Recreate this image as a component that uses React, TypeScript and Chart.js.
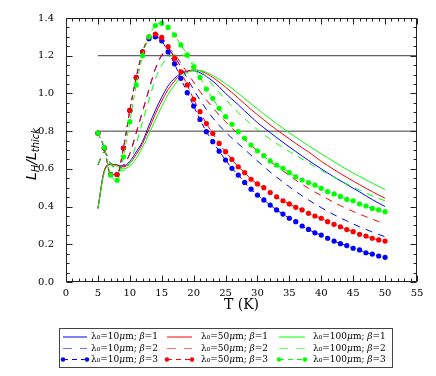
import React, { useEffect, useRef } from "react";
import { Chart, registerables } from "chart.js";

Chart.register(...registerables);

// ---------- data ----------
const temperatures = [
  5, 6, 7, 8, 9, 10, 11, 12, 13, 14, 15, 16, 17, 18, 19, 20, 21, 22, 23, 24, 25, 26, 27,
  28, 29, 30, 31, 32, 33, 34, 35, 36, 37, 38, 39, 40, 41, 42, 43, 44, 45, 46, 47, 48, 49, 50,
];

const blueBeta1 = [
  0.39, 0.59, 0.625, 0.62, 0.615, 0.64, 0.69, 0.745, 0.83, 0.91,
  0.98, 1.04, 1.08, 1.105, 1.118, 1.12, 1.11, 1.09, 1.065, 1.035,
  1.0, 0.97, 0.94, 0.907, 0.876, 0.845, 0.818, 0.792, 0.766, 0.741,
  0.716, 0.692, 0.668, 0.645, 0.622, 0.6, 0.578, 0.557, 0.537, 0.517,
  0.497, 0.478, 0.457, 0.437, 0.418, 0.4,
];
const redBeta1 = [
  0.39, 0.59, 0.625, 0.62, 0.61, 0.63, 0.675, 0.735, 0.81, 0.89,
  0.96, 1.02, 1.065, 1.1, 1.118, 1.125, 1.12, 1.105, 1.085, 1.06,
  1.033, 1.005, 0.975, 0.945, 0.915, 0.887, 0.86, 0.833, 0.808, 0.783,
  0.759, 0.735, 0.712, 0.69, 0.665, 0.64, 0.618, 0.596, 0.575, 0.555,
  0.535, 0.516, 0.497, 0.479, 0.461, 0.444,
];
const greenBeta1 = [
  0.39, 0.58, 0.62, 0.615, 0.6, 0.615, 0.655, 0.715, 0.785, 0.86,
  0.93, 0.995, 1.045, 1.085, 1.11, 1.122, 1.122, 1.112, 1.095, 1.075,
  1.052, 1.027, 1.0, 0.972, 0.945, 0.918, 0.891, 0.865, 0.84, 0.815,
  0.791, 0.768, 0.745, 0.723, 0.701, 0.68, 0.659, 0.638, 0.617, 0.597,
  0.578, 0.56, 0.542, 0.524, 0.507, 0.49,
];
const blueBeta2 = [
  0.62, 0.69, 0.63, 0.6, 0.62, 0.68, 0.79, 0.905, 1.02, 1.13,
  1.2, 1.23, 1.195, 1.14, 1.08, 1.02, 0.965, 0.915, 0.87, 0.83,
  0.795, 0.763, 0.733, 0.703, 0.672, 0.642, 0.612, 0.583, 0.556, 0.53,
  0.505, 0.48, 0.457, 0.435, 0.414, 0.394, 0.375, 0.357, 0.34, 0.324,
  0.308, 0.293, 0.279, 0.265, 0.252, 0.24,
];
const redBeta2 = [
  0.62, 0.69, 0.63, 0.6, 0.62, 0.68, 0.79, 0.905, 1.02, 1.13,
  1.205, 1.235, 1.21, 1.16, 1.11, 1.06, 1.01, 0.965, 0.925, 0.885,
  0.85, 0.815, 0.785, 0.755, 0.726, 0.695, 0.667, 0.64, 0.614, 0.589,
  0.564, 0.54, 0.518, 0.497, 0.477, 0.458, 0.44, 0.422, 0.405, 0.389,
  0.374, 0.36, 0.346, 0.333, 0.32, 0.308,
];
const greenBeta2 = [
  0.62, 0.69, 0.63, 0.59, 0.59, 0.63, 0.73, 0.85, 0.965, 1.075,
  1.15, 1.19, 1.205, 1.205, 1.19, 1.16, 1.125, 1.085, 1.045, 1.005,
  0.967, 0.932, 0.898, 0.866, 0.836, 0.808, 0.782, 0.758, 0.735, 0.713,
  0.692, 0.672, 0.652, 0.632, 0.612, 0.593, 0.574, 0.556, 0.538, 0.52,
  0.503, 0.487, 0.472, 0.457, 0.443, 0.43,
];
const blueBeta3 = [
  0.79, 0.71, 0.57, 0.57, 0.71, 0.91, 1.085, 1.22, 1.29, 1.3,
  1.279, 1.22, 1.157, 1.08, 1.004, 0.933, 0.862, 0.797, 0.744, 0.694,
  0.647, 0.603, 0.567, 0.528, 0.492, 0.461, 0.435, 0.408, 0.382, 0.36,
  0.338, 0.32, 0.297, 0.279, 0.261, 0.249, 0.232, 0.217, 0.203, 0.193,
  0.179, 0.17, 0.155, 0.148, 0.138, 0.131,
];
const redBeta3 = [
  0.79, 0.71, 0.57, 0.57, 0.71, 0.91, 1.085, 1.22, 1.3, 1.315,
  1.297, 1.248, 1.186, 1.115, 1.045, 0.969, 0.903, 0.84, 0.788, 0.735,
  0.691, 0.65, 0.611, 0.58, 0.545, 0.52, 0.5, 0.474, 0.452, 0.431,
  0.414, 0.396, 0.382, 0.364, 0.35, 0.338, 0.32, 0.306, 0.293, 0.278,
  0.267, 0.253, 0.244, 0.232, 0.223, 0.217,
];
const greenBeta3 = [
  0.79, 0.714, 0.567, 0.54, 0.664, 0.85, 1.045, 1.2, 1.3, 1.36,
  1.372, 1.35, 1.31, 1.257, 1.204, 1.14, 1.085, 1.023, 0.974, 0.921,
  0.877, 0.836, 0.797, 0.762, 0.726, 0.696, 0.67, 0.642, 0.62, 0.603,
  0.58, 0.558, 0.541, 0.527, 0.514, 0.497, 0.479, 0.467, 0.454, 0.438,
  0.431, 0.414, 0.403, 0.39, 0.382, 0.373,
];

const thresholdLevels = [0.8, 1.2];
const thresholdSpan = [5, 55];

const seriesLabels = [
  ["λ₀=10μm; β=1", "λ₀=10μm; β=2", "λ₀=10μm; β=3"],
  ["λ₀=50μm; β=1", "λ₀=50μm; β=2", "λ₀=50μm; β=3"],
  ["λ₀=100μm; β=1", "λ₀=100μm; β=2", "λ₀=100μm; β=3"],
];
const seriesValues = [
  [blueBeta1, blueBeta2, blueBeta3],
  [redBeta1, redBeta2, redBeta3],
  [greenBeta1, greenBeta2, greenBeta3],
];

const xAxisTitle = "T (K)";
const X_MIN = 0, X_MAX = 55, X_STEP = 5;
const Y_MIN = 0, Y_MAX = 1.4, Y_STEP = 0.2;

// ---------- styles ----------
const COLORS = ["#0000ff", "#ff0000", "#00ff00"];
const SERIF = '"DejaVu Serif", serif';

function buildDatasets() {
  const sets: any[] = [];
  thresholdLevels.forEach((lvl) => {
    sets.push({
      label: "",
      data: thresholdSpan.map((t) => ({ x: t, y: lvl })),
      borderColor: "#3a3a3a",
      borderWidth: 1,
      pointRadius: 0,
      order: 20,
    });
  });
  for (let c = 0; c < 3; c++) {
    for (let r = 0; r < 3; r++) {
      const vals = seriesValues[c][r];
      const ds: any = {
        label: seriesLabels[c][r],
        data: temperatures.map((t, i) => ({ x: t, y: vals[i] })),
        borderColor: COLORS[c],
        backgroundColor: COLORS[c],
        borderWidth: 1,
        pointRadius: 0,
        pointHoverRadius: 0,
        cubicInterpolationMode: "monotone",
        legendCol: c,
        legendRow: r,
        order: r === 2 ? 2 - c : 10 - c,
      };
      if (r === 1) {
        ds.borderDash = [7, 6];
        ds.legendDash = [9, 8];
      }
      if (r === 2) {
        ds.borderDash = [5, 4];
        ds.legendDash = [5, 4];
        ds.pointRadius = 2.6;
        ds.pointBorderWidth = 0;
        ds.pointBackgroundColor = COLORS[c];
      }
      sets.push(ds);
    }
  }
  return sets;
}

const framePlugin = {
  id: "frameTicks",
  afterDatasetsDraw(chart: any) {
    const { ctx, chartArea: a, scales } = chart;
    const xs = scales.x, ys = scales.y;
    ctx.save();
    ctx.strokeStyle = "#222";
    ctx.lineWidth = 1;
    ctx.setLineDash([]);
    const L = Math.round(a.left) + 0.5, R = Math.round(a.right) - 0.5;
    const T = Math.round(a.top) + 0.5, B = Math.round(a.bottom) - 0.5;
    ctx.beginPath();
    for (let t = X_MIN; t <= X_MAX; t += 1) {
      const px = Math.round(xs.getPixelForValue(t)) + 0.5;
      const len = t % 5 === 0 ? 6 : 3;
      ctx.moveTo(px, B); ctx.lineTo(px, B - len);
      ctx.moveTo(px, T); ctx.lineTo(px, T + len);
    }
    for (let i = 0; i <= 28; i++) {
      const v = i * 0.05;
      const py = Math.round(ys.getPixelForValue(v)) + 0.5;
      const len = i % 4 === 0 ? 6 : 3;
      ctx.moveTo(L, py); ctx.lineTo(L + len, py);
      ctx.moveTo(R, py); ctx.lineTo(R - len, py);
    }
    ctx.stroke();
    ctx.strokeRect(L, T, R - L, B - T);
    ctx.restore();
  },
};

const yTitlePlugin = {
  id: "yTitle",
  afterDraw(chart: any) {
    const ctx = chart.ctx;
    const a = chart.chartArea;
    const parts = [
      { t: "L", f: 'italic 14px "DejaVu Sans"', dy: 0 },
      { t: "H", f: 'italic 10px "DejaVu Sans"', dy: 3 },
      { t: "/", f: 'italic 14px "DejaVu Sans"', dy: 0 },
      { t: "L", f: 'italic 14px "DejaVu Sans"', dy: 0 },
      { t: "thick", f: 'italic 10px "DejaVu Sans"', dy: 3 },
    ];
    ctx.save();
    let total = 0;
    const widths = parts.map((p) => {
      ctx.font = p.f;
      const w = ctx.measureText(p.t).width;
      total += w;
      return w;
    });
    ctx.translate(31, (a.top + a.bottom) / 2 + 4);
    ctx.rotate(-Math.PI / 2);
    ctx.fillStyle = "#000";
    ctx.textBaseline = "alphabetic";
    let x = -total / 2;
    parts.forEach((p, i) => {
      ctx.font = p.f;
      ctx.fillText(p.t, x, 5 + p.dy);
      x += widths[i];
    });
    ctx.restore();
  },
};

const legendPlugin = {
  id: "boxLegend",
  afterDraw(chart: any) {
    const ctx = chart.ctx;
    ctx.save();
    ctx.setLineDash([]);
    ctx.globalAlpha = 1;
    ctx.strokeStyle = "#000";
    ctx.lineWidth = 1;
    ctx.strokeRect(59.5, 328.5, 333, 39);
    const colLine = [[63, 87], [167, 192], [279, 305]];
    const colText = [91, 201, 313];
    const rowY = [337, 348.5, 359.5];
    chart.data.datasets.forEach((ds: any) => {
      if (ds.legendCol === undefined) return;
      const [x0, x1] = colLine[ds.legendCol];
      const y = rowY[ds.legendRow];
      ctx.strokeStyle = ds.borderColor;
      ctx.lineWidth = 1;
      ctx.setLineDash(ds.legendDash || []);
      ctx.globalAlpha = ds.legendRow === 1 ? 0.55 : 1;
      ctx.beginPath();
      ctx.moveTo(x0, y);
      ctx.lineTo(x1, y);
      ctx.stroke();
      ctx.globalAlpha = 1;
      ctx.setLineDash([]);
      if (ds.pointRadius > 0) {
        ctx.fillStyle = ds.borderColor;
        [x0, x1].forEach((px) => {
          ctx.beginPath();
          ctx.arc(px, y, 2.2, 0, Math.PI * 2);
          ctx.fill();
        });
      }
      let x = colText[ds.legendCol];
      ctx.fillStyle = "#000";
      ctx.textBaseline = "middle";
      ctx.textAlign = "left";
      for (const ch of Array.from(ds.label as string)) {
        ctx.font = "μβ".includes(ch) ? `italic 9px ${SERIF}` : `9px ${SERIF}`;
        ctx.fillText(ch, x, y);
        x += ctx.measureText(ch).width;
      }
    });
    ctx.restore();
  },
};

export default function App() {
  const ref = useRef<HTMLCanvasElement | null>(null);
  useEffect(() => {
    const canvas = ref.current;
    if (!canvas) return;
    const chart = new Chart(canvas, {
      type: "line",
      data: { datasets: buildDatasets() },
      options: {
        responsive: false,
        animation: false,
        events: [],
        layout: { padding: { left: 0, top: 18, right: 19, bottom: 62 } },
        plugins: {
          legend: { display: false },
          tooltip: { enabled: false },
        },
        scales: {
          x: {
            type: "linear",
            min: X_MIN,
            max: X_MAX,
            grid: { display: false, drawTicks: false },
            border: { display: false },
            ticks: {
              stepSize: X_STEP,
              padding: 5,
              maxRotation: 0,
              autoSkip: false,
              color: "#000",
              font: { family: SERIF, size: 10 },
            },
            title: {
              display: true,
              text: xAxisTitle,
              color: "#000",
              padding: 0,
              font: { family: SERIF, size: 14 },
            },
            afterFit: (s: any) => {
              s.height = 32;
            },
          },
          y: {
            type: "linear",
            min: Y_MIN,
            max: Y_MAX,
            grid: { display: false, drawTicks: false },
            border: { display: false },
            ticks: {
              stepSize: Y_STEP,
              padding: 12,
              color: "#000",
              font: { family: SERIF, size: 10 },
              callback: (v: any) => Number(v).toFixed(1),
            },
            afterFit: (s: any) => {
              s.width = 66;
            },
          },
        },
      } as any,
      plugins: [framePlugin, yTitlePlugin, legendPlugin],
    });
    return () => chart.destroy();
  }, []);
  return (
    <div style={{ position: "absolute", left: 0, top: 0, width: 436, height: 376, background: "#fff" }}>
      <canvas ref={ref} width={436} height={376} style={{ display: "block", width: 436, height: 376 }} />
      <div
        style={{
          position: "absolute",
          left: 59,
          top: 328,
          width: 334,
          height: 40,
          boxSizing: "border-box",
          border: "1px solid #444",
          pointerEvents: "none",
        }}
      />
    </div>
  );
}
